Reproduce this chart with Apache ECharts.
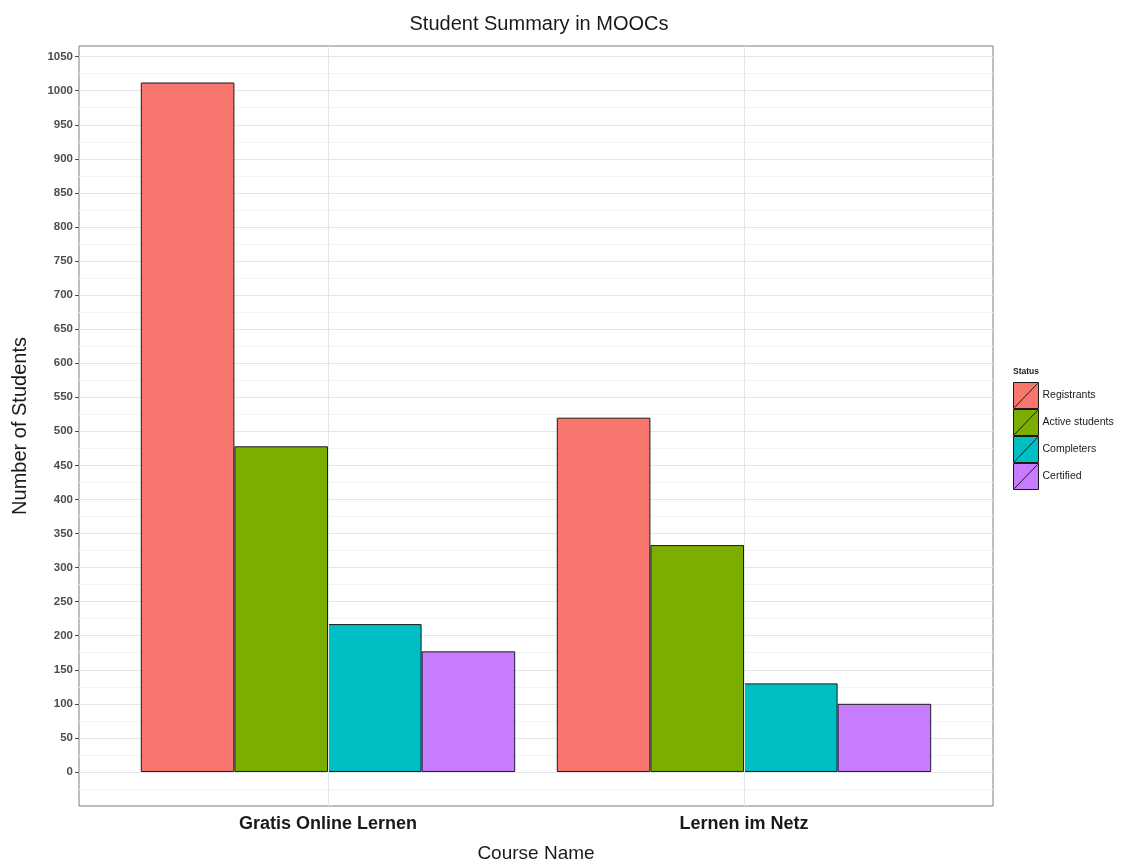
<!DOCTYPE html>
<html>
<head>
<meta charset="utf-8">
<script src="https://cdn.jsdelivr.net/npm/echarts@6/dist/echarts.min.js"></script>
<style>html,body{margin:0;padding:0;background:#fff;}#c{width:1125px;height:861px;}</style>
</head>
<body>
<div id="c"></div>
<script>
const categories = ['Gratis Online Lernen', 'Lernen im Netz'];
const statusNames = ['Registrants', 'Active students', 'Completers', 'Certified'];
const registrants = [1012, 520];
const activeStudents = [478, 333];
const completers = [217, 130];
const certified = [177, 100];
const yTickValues = [0, 50, 100, 150, 200, 250, 300, 350, 400, 450, 500, 550, 600, 650, 700, 750, 800, 850, 900, 950, 1000, 1050];
const colors = ['#F8766D', '#7CAE00', '#00BFC4', '#C77CFF'];

const seriesValues = [registrants, activeStudents, completers, certified];
const FONT = '"Liberation Sans", Arial, sans-serif';
const YMIN = -50, YMAX = 1065.6;

const chart = echarts.init(document.getElementById('c'));
const keyIcon = 'path://M0,0H25V26H0Z M1,25L24,1';

const series = statusNames.map((n, i) => ({
  name: n, type: 'bar', xAxisIndex: 0, yAxisIndex: 1,
  data: seriesValues[i], barGap: '0%', barCategoryGap: '10%', z: 3,
  itemStyle: { color: colors[i], borderColor: '#1a1a1a', borderWidth: 1 }
}));
series.push({
  name: 'vgrid', type: 'line', xAxisIndex: 0, yAxisIndex: 1, data: [], z: 1, silent: true,
  markLine: { silent: true, symbol: 'none', label: { show: false },
    lineStyle: { color: '#e5e5e5', type: 'solid', width: 1 },
    data: categories.map(c => ({ xAxis: c })) }
});

const sharedY = { type: 'value', min: YMIN, max: YMAX, interval: 50 };

chart.setOption({
  animation: false,
  backgroundColor: '#fff',
  title: [
    { text: 'Student Summary in MOOCs', left: 534, top: 9, textAlign: 'center',
      textStyle: { fontFamily: FONT, fontSize: 20, fontWeight: 'normal', color: '#1a1a1a' } },
    { text: 'Status', left: 1013, top: 367, padding: 0,
      textStyle: { fontFamily: FONT, fontSize: 8.5, fontWeight: 'bold', color: '#1a1a1a' } }
  ],
  legend: {
    orient: 'vertical', left: 1013, top: 382, itemGap: 0, itemWidth: 25, itemHeight: 26, padding: 0,
    data: statusNames, icon: keyIcon,
    itemStyle: { borderColor: '#1a1a1a', borderWidth: 1 },
    textStyle: { fontFamily: FONT, fontSize: 10.5, color: '#1a1a1a', padding: [0, 0, 0, -1] },
    selectedMode: false
  },
  grid: [
    { left: 120, right: 173, top: 46, bottom: 55, outerBoundsMode: 'none', containLabel: false },
    { left: 79, right: 132, top: 46, bottom: 55, outerBoundsMode: 'none', containLabel: false,
      show: true, borderColor: '#7f7f7f', borderWidth: 1, backgroundColor: 'transparent' }
  ],
  xAxis: [
    { type: 'category', gridIndex: 0, data: categories,
      axisLine: { show: false },
      axisTick: { show: true, alignWithLabel: true, length: 4, lineStyle: { color: '#4d4d4d' } },
      axisLabel: { fontFamily: FONT, fontSize: 18, fontWeight: 'bold', color: '#1a1a1a', margin: 9 },
      splitLine: { show: false },
      name: 'Course Name', nameLocation: 'middle', nameGap: 38,
      nameTextStyle: { fontFamily: FONT, fontSize: 19, color: '#1a1a1a' } },
    { type: 'value', gridIndex: 1, show: false, min: 0, max: 1 }
  ],
  yAxis: [
    Object.assign({}, sharedY, { gridIndex: 1,
      axisLine: { show: false },
      axisTick: { show: true, length: 4, customValues: yTickValues, lineStyle: { color: '#4d4d4d' } },
      axisLabel: { fontFamily: FONT, fontSize: 11.5, fontWeight: 'bold', color: '#4d4d4d', margin: 6,
        customValues: yTickValues,
        formatter: v => (v < 0 || v % 50 !== 0) ? '' : String(v) },
      splitLine: { show: true, lineStyle: { color: '#e5e5e5', width: 1 } },
      minorTick: { show: false, splitNumber: 2 },
      minorSplitLine: { show: true, lineStyle: { color: '#f4f4f4', width: 1 } },
      name: 'Number of Students', nameLocation: 'middle', nameRotate: 90, nameGap: 49,
      nameTextStyle: { fontFamily: FONT, fontSize: 20, color: '#1a1a1a' } }),
    Object.assign({}, sharedY, { gridIndex: 0, show: false, splitLine: { show: false } })
  ],
  series: series
});
</script>
</body>
</html>
